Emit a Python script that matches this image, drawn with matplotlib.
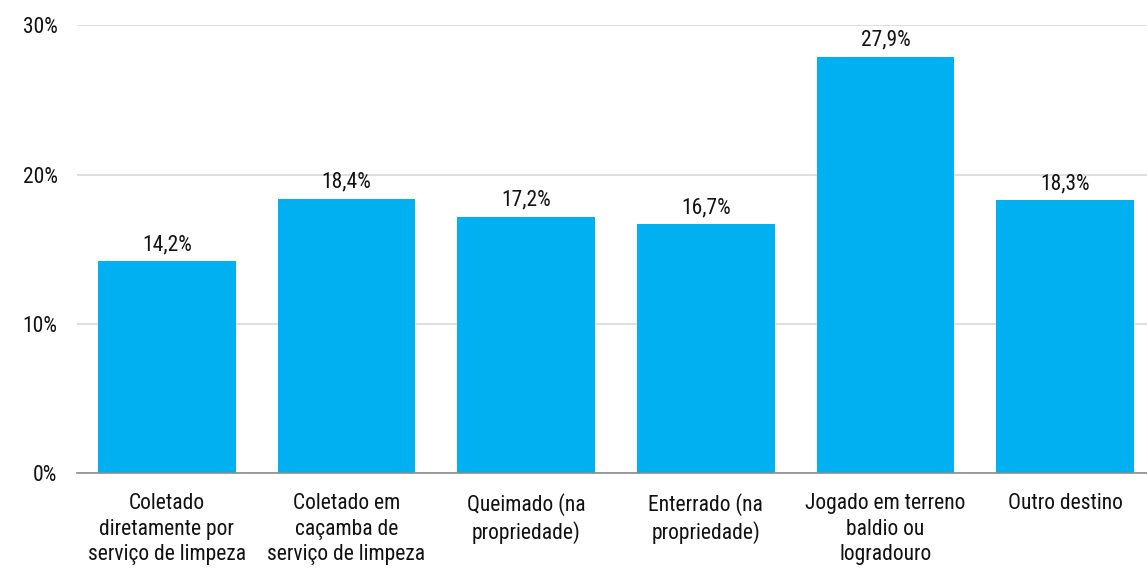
import matplotlib
matplotlib.use("Agg")
import matplotlib.pyplot as plt
from matplotlib.ticker import FuncFormatter

# data
categories = [
    "Coletado\ndiretamente por\nserviço de limpeza",
    "Coletado em\ncaçamba de\nserviço de limpeza",
    "Queimado (na\npropriedade)",
    "Enterrado (na\npropriedade)",
    "Jogado em terreno\nbaldio ou\nlogradouro",
    "Outro destino",
]
values = [14.2, 18.4, 17.2, 16.7, 27.9, 18.3]
yticks = [0, 10, 20, 30]

plt.rcParams['font.family'] = ['Roboto Condensed', 'Liberation Sans', 'DejaVu Sans']

fig = plt.figure(figsize=(11.47, 5.73), dpi=100)
W, H = 1147, 573
# axes in pixel coords: left 77, right 1155 (cut off by figure edge), top 25.4, bottom 473.3
ax = fig.add_axes([77 / W, 1 - 473.3 / H, (1155 - 77) / W, (473.3 - 25.4) / H])

x = range(len(values))
ax.bar(x, values, width=0.768, color="#00B0F0", zorder=3)

for xi, v in zip(x, values):
    ax.text(xi, v + 0.4, f"{v:.1f}%".replace(".", ","), ha="center", va="bottom",
            fontsize=15.5, color="#111111")

ax.set_xlim(-0.5, len(values) - 0.5)
ax.set_ylim(0, 30)
ax.set_yticks(yticks)
ax.yaxis.set_major_formatter(FuncFormatter(lambda v, p: f"{v:.0f}%"))
ax.set_xticks(list(x))
ax.set_xticklabels(categories, linespacing=1.3)

ax.grid(axis="y", color="#D9D9D9", linewidth=1.2, zorder=0)
for s in ["top", "right", "left"]:
    ax.spines[s].set_visible(False)
ax.spines["bottom"].set_color("#8C8C8C")
ax.spines["bottom"].set_linewidth(1.2)
ax.spines["bottom"].set_zorder(4)
ax.tick_params(axis="both", length=0, labelsize=15.5, colors="#111111")
ax.tick_params(axis="y", pad=14)
ax.tick_params(axis="x", pad=14)

fig.savefig("out.png", dpi=100)
